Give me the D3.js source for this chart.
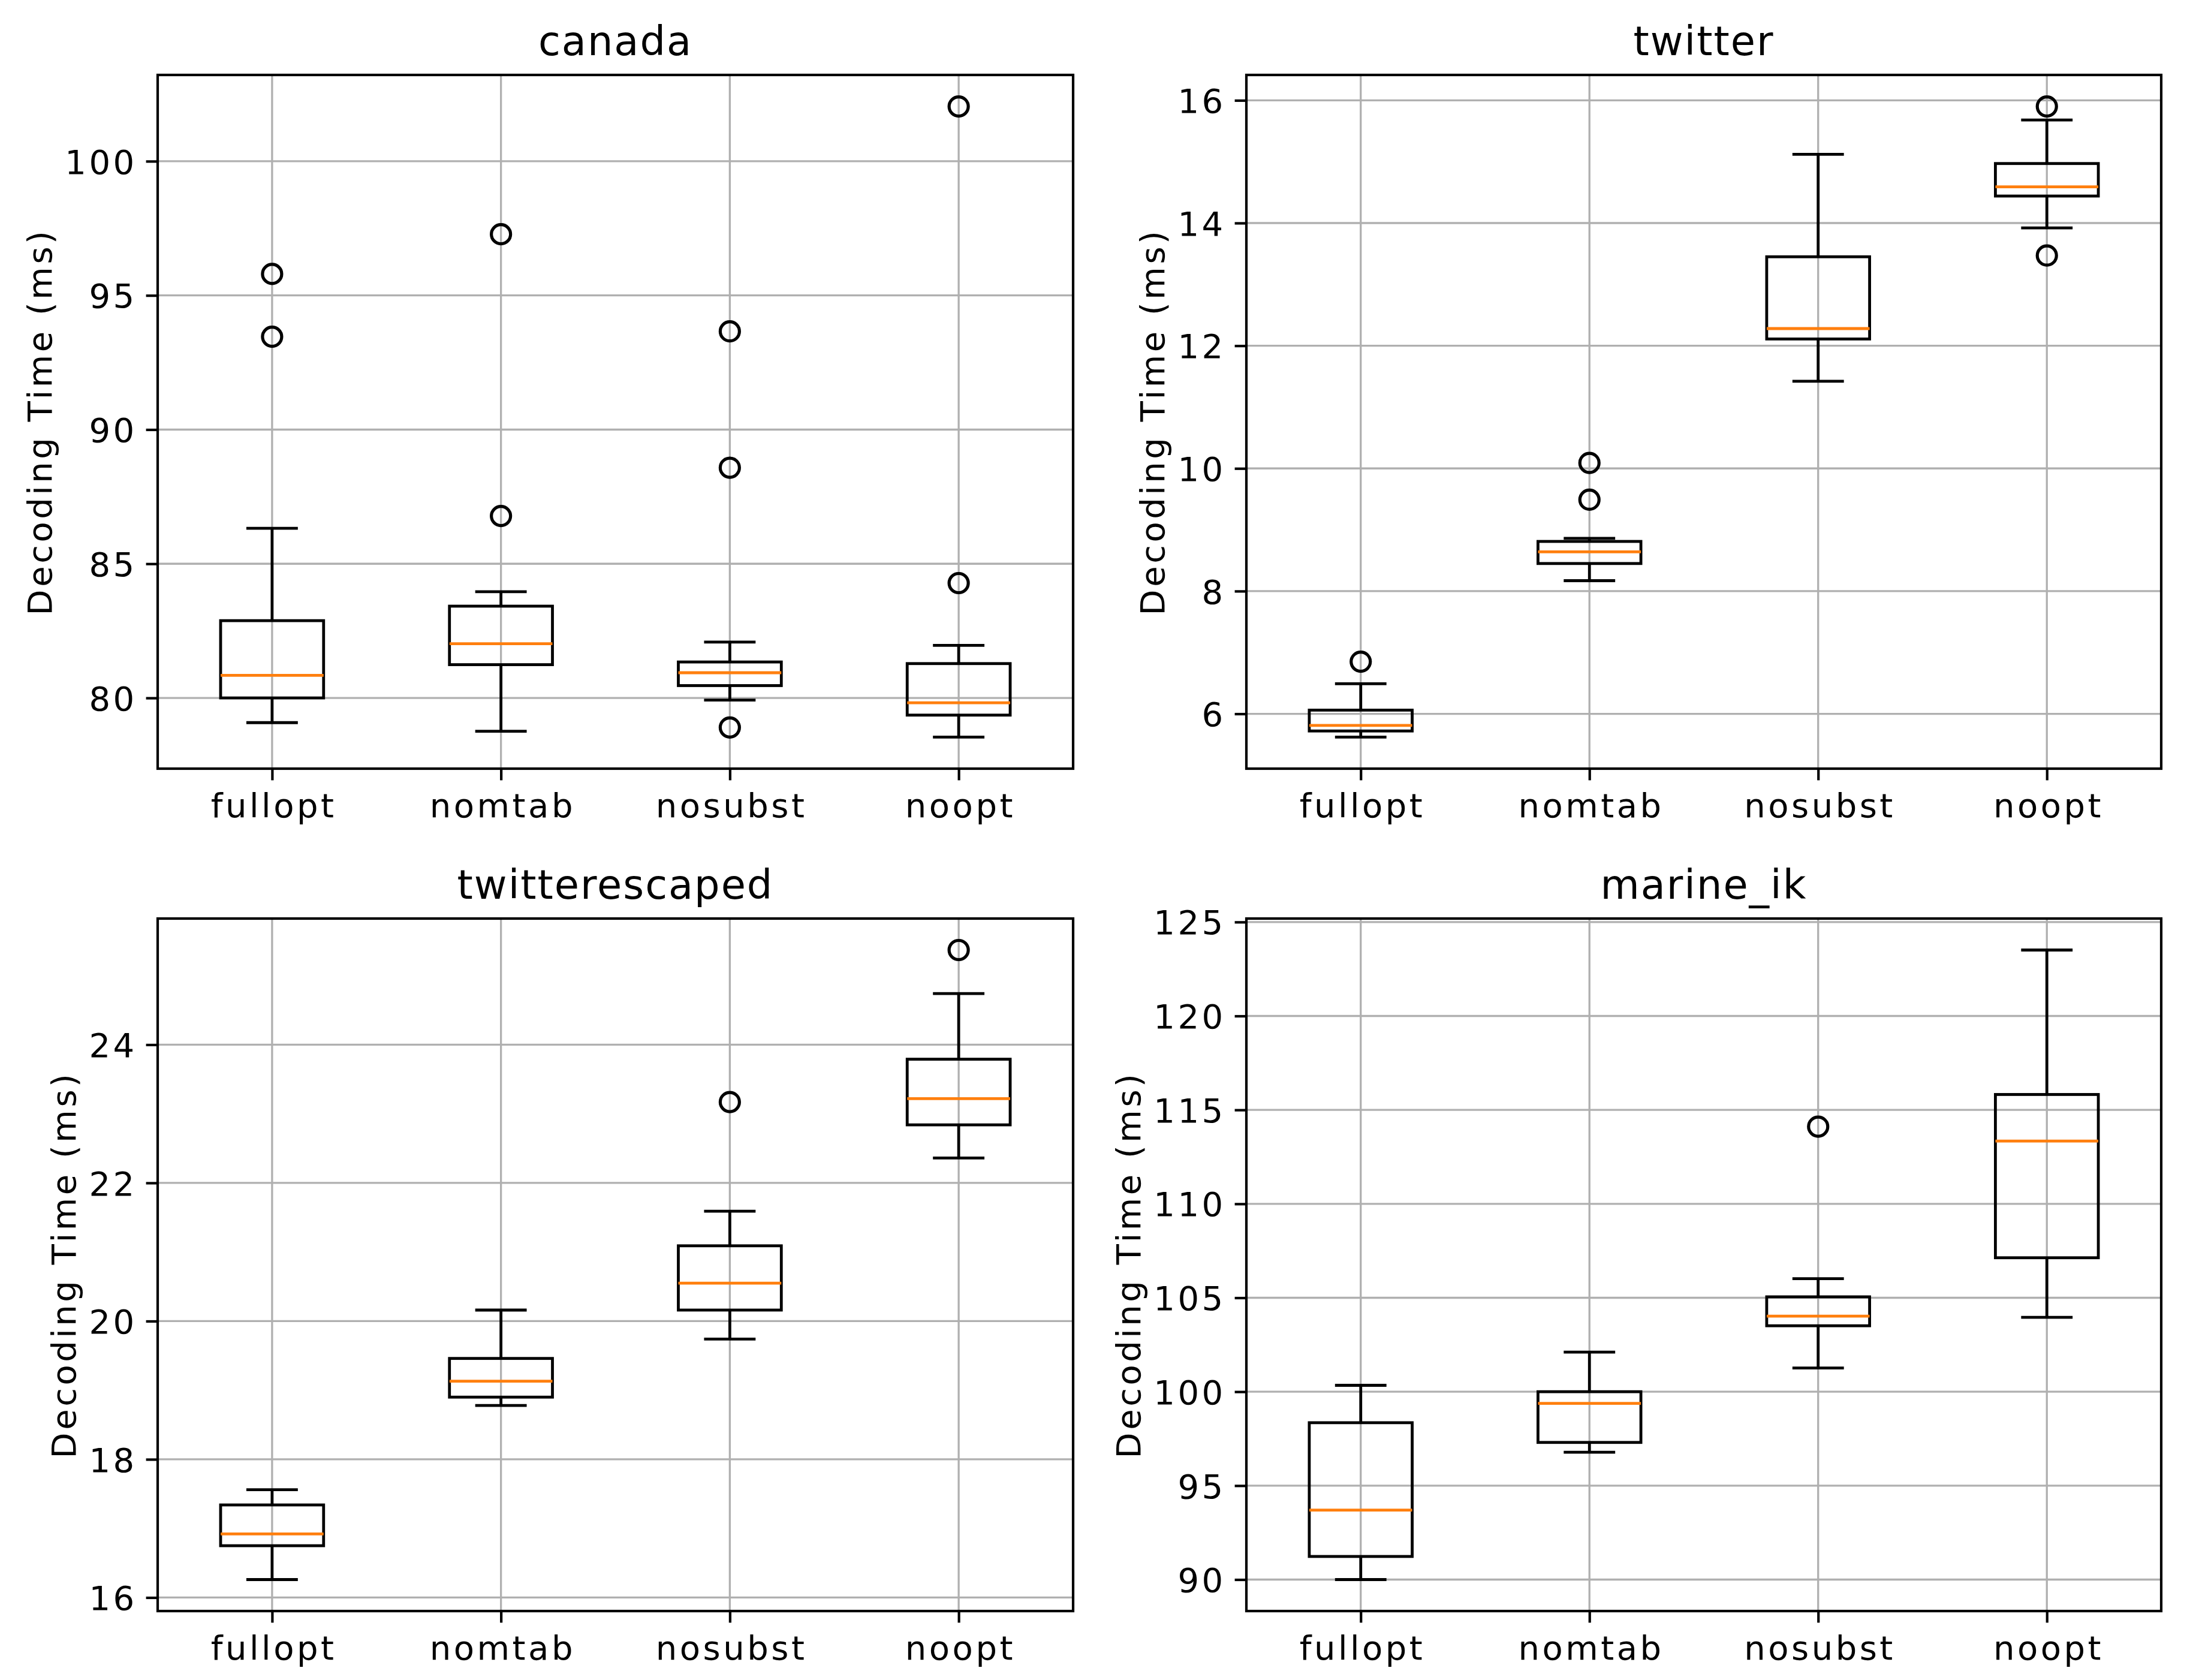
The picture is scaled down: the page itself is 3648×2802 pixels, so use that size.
<!DOCTYPE html>
<html>
<head>
<meta charset="utf-8">
<script src="https://cdn.jsdelivr.net/npm/d3@7"></script>
<style>
  body { margin: 0; background: #fff; }
  text { font-family: "DejaVu Sans", sans-serif; fill: #000; }
</style>
</head>
<body>
<svg id="chart" width="3648" height="2802"></svg>
<script>
// categories shared by all four panels
const categories = ["fullopt", "nomtab", "nosubst", "noopt"];
const panelTitles = ["canada", "twitter", "twitterescaped", "marine_ik"];

// [whisker low, q1, median, q3, whisker high] per category
const canadaStats = [
    [79.08, 80.0, 80.84, 82.88, 86.32],
    [78.76, 81.24, 82.02, 83.42, 83.96],
    [79.92, 80.46, 80.94, 81.34, 82.08],
    [78.54, 79.36, 79.82, 81.28, 81.96]
];
const canadaFliers = [[95.8, 93.46], [97.28, 86.78], [93.66, 88.58, 78.9], [102.04, 84.28]];

const twitterStats = [
    [5.62, 5.72, 5.81, 6.06, 6.49],
    [8.17, 8.45, 8.64, 8.81, 8.86],
    [11.42, 12.11, 12.28, 13.45, 15.12],
    [13.92, 14.44, 14.59, 14.97, 15.68]
];
const twitterFliers = [[6.85], [10.09, 9.49], [], [15.90, 13.47]];

const escapedStats = [
    [16.26, 16.75, 16.92, 17.34, 17.56],
    [18.78, 18.90, 19.13, 19.46, 20.16],
    [19.74, 20.16, 20.55, 21.09, 21.59],
    [22.36, 22.84, 23.22, 23.79, 24.74]
];
const escapedFliers = [[], [], [23.17], [25.37]];

const marineStats = [
    [90.0, 91.23, 93.70, 98.35, 100.34],
    [96.78, 97.30, 99.38, 100.0, 102.11],
    [101.26, 103.51, 104.02, 105.05, 106.02],
    [103.96, 107.13, 113.34, 115.82, 123.51]
];
const marineFliers = [[], [], [114.11], []];

// y tick values per panel
const canadaTicks = [80, 85, 90, 95, 100];
const twitterTicks = [6, 8, 10, 12, 14, 16];
const escapedTicks = [16, 18, 20, 22, 24];
const marineTicks = [90, 95, 100, 105, 110, 115, 120, 125];

const yLabel = "Decoding Time (ms)";

// layout (px): matplotlib 2x2 subplot grid
const colX = [[263, 1790], [2079, 3605]];
const rowY = [[125, 1282], [1532, 2687]];
const fontSize = 56, titleSize = 67;
const spacing = 4.5, titleSpacing = 2;
const tickLen = 19.4, tickPad = 19.4;
const boxW = 0.45;

const panels = [
    { title: panelTitles[0], stats: canadaStats, fliers: canadaFliers, ticks: canadaTicks, col: 0, row: 0 },
    { title: panelTitles[1], stats: twitterStats, fliers: twitterFliers, ticks: twitterTicks, col: 1, row: 0 },
    { title: panelTitles[2], stats: escapedStats, fliers: escapedFliers, ticks: escapedTicks, col: 0, row: 1 },
    { title: panelTitles[3], stats: marineStats, fliers: marineFliers, ticks: marineTicks, col: 1, row: 1 }
];

const svg = d3.select("#chart");
svg.append("rect").attr("width", 3648).attr("height", 2802).attr("fill", "#fff");

panels.forEach(p => {
    const [x0, x1] = colX[p.col];
    const [y0, y1] = rowY[p.row];

    // data limits with matplotlib's 5% margin
    const all = p.stats.flat().concat(p.fliers.flat());
    const lo = d3.min(all), hi = d3.max(all), pad = (hi - lo) * 0.05;

    const x = d3.scaleLinear().domain([0.5, 4.5]).range([x0, x1]);
    const y = d3.scaleLinear().domain([lo - pad, hi + pad]).range([y1, y0]);

    const g = svg.append("g");

    // grid
    g.append("g").selectAll("line").data(p.ticks).enter().append("line")
        .attr("x1", x0).attr("x2", x1)
        .attr("y1", d => y(d)).attr("y2", d => y(d))
        .attr("stroke", "#b0b0b0").attr("stroke-width", 3.3);
    g.append("g").selectAll("line").data(categories).enter().append("line")
        .attr("x1", (d, i) => x(i + 1)).attr("x2", (d, i) => x(i + 1))
        .attr("y1", y0).attr("y2", y1)
        .attr("stroke", "#b0b0b0").attr("stroke-width", 3.3);

    // boxes
    const box = g.append("g").selectAll("g").data(p.stats).enter().append("g");
    const lw = 4.8;
    box.append("line") // lower whisker
        .attr("x1", (d, i) => x(i + 1)).attr("x2", (d, i) => x(i + 1))
        .attr("y1", d => y(d[0])).attr("y2", d => y(d[1]))
        .attr("stroke", "#000").attr("stroke-width", lw);
    box.append("line") // upper whisker
        .attr("x1", (d, i) => x(i + 1)).attr("x2", (d, i) => x(i + 1))
        .attr("y1", d => y(d[3])).attr("y2", d => y(d[4]))
        .attr("stroke", "#000").attr("stroke-width", lw);
    [0, 4].forEach(k => {
        box.append("line") // caps
            .attr("x1", (d, i) => x(i + 1 - boxW / 4)).attr("x2", (d, i) => x(i + 1 + boxW / 4))
            .attr("y1", d => y(d[k])).attr("y2", d => y(d[k]))
            .attr("stroke", "#000").attr("stroke-width", lw);
    });
    box.append("rect")
        .attr("x", (d, i) => x(i + 1 - boxW / 2))
        .attr("width", (d, i) => x(i + 1 + boxW / 2) - x(i + 1 - boxW / 2))
        .attr("y", d => y(d[3]))
        .attr("height", d => y(d[1]) - y(d[3]))
        .attr("fill", "none").attr("stroke", "#000").attr("stroke-width", lw);
    box.append("line") // median
        .attr("x1", (d, i) => x(i + 1 - boxW / 2)).attr("x2", (d, i) => x(i + 1 + boxW / 2))
        .attr("y1", d => y(d[2])).attr("y2", d => y(d[2]))
        .attr("stroke", "#ff7f0e").attr("stroke-width", lw);

    // fliers
    const flierPts = p.fliers.flatMap((arr, i) => arr.map(v => ({ i, v })));
    g.append("g").selectAll("circle").data(flierPts).enter().append("circle")
        .attr("cx", d => x(d.i + 1)).attr("cy", d => y(d.v))
        .attr("r", 16)
        .attr("fill", "none").attr("stroke", "#000").attr("stroke-width", 5.2);

    // spines
    g.append("rect")
        .attr("x", x0).attr("y", y0).attr("width", x1 - x0).attr("height", y1 - y0)
        .attr("fill", "none").attr("stroke", "#000").attr("stroke-width", 4.2);

    // y axis
    const yAxis = g.append("g")
        .attr("transform", `translate(${x0},0)`)
        .call(d3.axisLeft(y).tickValues(p.ticks).tickSize(tickLen).tickPadding(tickPad).tickFormat(d3.format("d")));
    yAxis.select(".domain").remove();
    yAxis.selectAll(".tick line").attr("stroke", "#000").attr("stroke-width", 4.2);
    yAxis.selectAll(".tick text").attr("font-size", fontSize).attr("font-family", "DejaVu Sans")
        .attr("letter-spacing", spacing).attr("dx", spacing).attr("dy", "0.36em");

    // x axis
    const xAxis = g.append("g")
        .attr("transform", `translate(0,${y1})`)
        .call(d3.axisBottom(x).tickValues([1, 2, 3, 4]).tickSize(tickLen).tickPadding(tickPad)
            .tickFormat(d => categories[d - 1]));
    xAxis.select(".domain").remove();
    xAxis.selectAll(".tick line").attr("stroke", "#000").attr("stroke-width", 4.2);
    xAxis.selectAll(".tick text").attr("font-size", fontSize).attr("font-family", "DejaVu Sans")
        .attr("letter-spacing", spacing).attr("dx", spacing / 2).attr("dy", "0.76em");

    // y label, placed left of the tick labels
    const bb = yAxis.node().getBBox();
    const labelX = x0 + bb.x - 22;
    g.append("text")
        .attr("transform", `translate(${labelX},${(y0 + y1) / 2}) rotate(-90)`)
        .attr("text-anchor", "middle")
        .attr("font-size", fontSize)
        .attr("letter-spacing", spacing)
        .text(yLabel);

    // title
    g.append("text")
        .attr("x", (x0 + x1) / 2).attr("y", y0 - 33)
        .attr("text-anchor", "middle")
        .attr("font-size", titleSize)
        .attr("letter-spacing", titleSpacing)
        .text(p.title);
});
</script>
</body>
</html>
